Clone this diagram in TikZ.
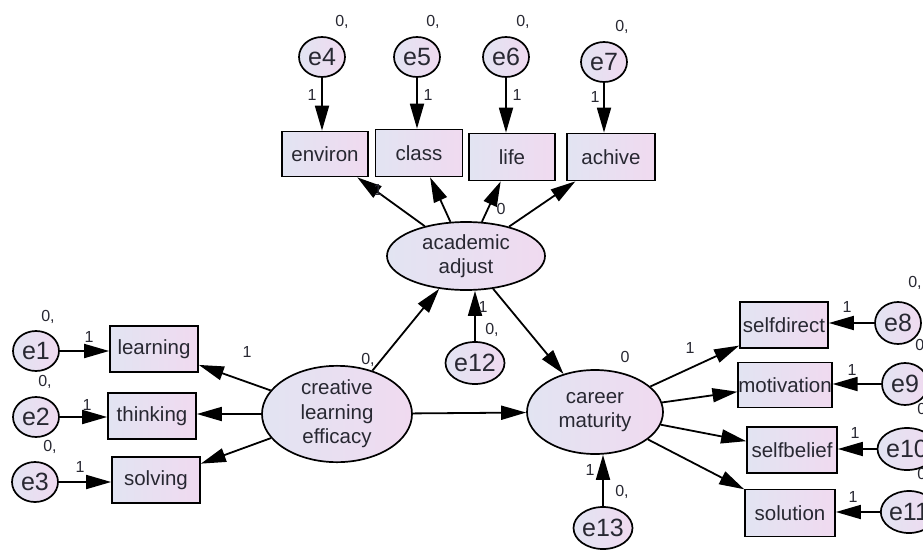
\documentclass[tikz,border=0pt]{standalone}
\usepackage{fontspec}
\setmainfont{Liberation Sans}
\usetikzlibrary{arrows.meta,shapes.geometric}
\definecolor{fillL}{RGB}{226,228,242}
\definecolor{fillR}{RGB}{240,218,240}
\definecolor{txt}{RGB}{40,40,50}
\tikzset{
  base/.style={draw=black, line width=1.7pt, left color=fillL, right color=fillR, text=txt, inner sep=0pt, align=center},
  obs/.style={base, rectangle, minimum width=88pt, minimum height=46pt, font=\fontsize{20.5}{24}\selectfont},
  lat/.style={base, ellipse, font=\fontsize{20.5}{24.5}\selectfont},
  err/.style={base, ellipse, minimum width=46pt, minimum height=40pt, font=\fontsize{25}{28}\selectfont},
  arr/.style={line width=1.8pt, -{Triangle[length=25pt,width=14pt]}},
  lbl/.style={text=txt, inner sep=0pt, font=\fontsize{16}{18}\selectfont}
}
\begin{document}
\begin{tikzpicture}[x=1pt,y=-1pt]
\useasboundingbox (0,0) rectangle (923,551);
\clip (0,0) rectangle (923,551);
\fill[white] (0,0) rectangle (923,551);
% top error terms
\node[err] (e4) at (322,57) {e4};
\node[err] (e5) at (417,57) {e5};
\node[err] (e6) at (506,57) {e6};
\node[err] (e7) at (604,62) {e7};
% top indicators
\node[obs, minimum width=86pt, minimum height=45pt] (environ) at (325,154) {environ};
\node[obs, minimum width=87pt, minimum height=47pt] (class) at (419,153) {class};
\node[obs, minimum width=86pt, minimum height=47pt] (life) at (512,157) {life};
\node[obs, minimum width=88pt, minimum height=47pt] (achive) at (611,157) {achive};
% latent
\node[lat, minimum width=158pt, minimum height=68pt] (aa) at (466,256) {academic\\adjust};
\node[lat, minimum width=136pt, minimum height=84pt] (cm) at (595,412) {career\\maturity};
\node[lat, minimum width=150pt, minimum height=86pt] (cle) at (337,414) {creative\\learning\\efficacy};
\node[err, minimum width=48pt, minimum height=42pt] (e12) at (475,363) {e12};
\node[err, minimum width=48pt, minimum height=42pt] (e13) at (603,528) {e13};
% left indicators
\node[obs] (learning) at (154,349) {learning};
\node[obs] (thinking) at (152,416) {thinking};
\node[obs] (solving) at (156,480) {solving};
\node[err] (e1) at (36,351) {e1};
\node[err] (e2) at (36,417) {e2};
\node[err] (e3) at (35,482) {e3};
% right indicators
\node[obs] (selfdirect) at (784,325) {selfdirect};
\node[obs, minimum width=90pt, minimum height=45pt] (motivation) at (785,385) {motivation};
\node[obs, minimum width=90pt] (selfbelief) at (792,450) {selfbelief};
\node[obs, minimum width=90pt, minimum height=47pt] (solution) at (790,513) {solution};
\node[err, minimum height=42pt] (e8) at (898,323) {e8};
\node[err, minimum height=42pt] (e9) at (905,384) {e9};
\node[err, minimum height=42pt] (e10) at (907,449) {e10};
\node[err, minimum height=42pt] (e11) at (909,512) {e11};
% arrows: errors to top indicators
\draw[arr] (e4.south) -- (e4.south |- environ.north);
\draw[arr] (e5.south) -- (e5.south |- class.north);
\draw[arr] (e6.south) -- (e6.south |- life.north);
\draw[arr] (e7.south) -- (e7.south |- achive.north);
% academic to indicators
\draw[arr] (aa) -- (environ);
\draw[arr] (aa) -- (class);
\draw[arr] (aa) -- (life);
\draw[arr] (aa) -- (achive);
% structural
\draw[arr] (cle) -- (aa);
\draw[arr] (cle) -- (cm);
\draw[arr] (aa) -- (cm);
\draw[arr] (e12.north) -- (e12.north |- aa.south);
\draw[arr] (e13.north) -- (e13.north |- cm.south);
% creative to indicators
\draw[arr] (cle) -- (learning);
\draw[arr] (cle.west) -- (thinking.east |- cle.west);
\draw[arr] (cle) -- (solving);
\draw[arr] (e1.east) -- (learning.west |- e1.east);
\draw[arr] (e2.east) -- (thinking.west |- e2.east);
\draw[arr] (e3.east) -- (solving.west |- e3.east);
% career to indicators
\draw[arr] (cm) -- (selfdirect);
\draw[arr] (cm) -- (motivation);
\draw[arr] (cm) -- (selfbelief);
\draw[arr] (cm) -- (solution);
\draw[arr] (e8.west) -- (selfdirect.east |- e8.west);
\draw[arr] (e9.west) -- (motivation.east |- e9.west);
\draw[arr] (e10.west) -- (selfbelief.east |- e10.west);
\draw[arr] (e11.west) -- (solution.east |- e11.west);
% labels
\node[lbl] (l1) at (342,22) {0,};
\node[lbl] (l2) at (433,22) {0,};
\node[lbl] (l3) at (523,22) {0,};
\node[lbl] (l4) at (622,27) {0,};
\node[lbl] (l5) at (312,95) {1};
\node[lbl] (l6) at (428,95) {1};
\node[lbl] (l7) at (517,95) {1};
\node[lbl] (l8) at (595,97) {1};
\node[lbl] (l9) at (378,190) {1};
\node[lbl] (l10) at (501,209) {0};
\node[lbl] (l11) at (368,360) {0,};
\node[lbl] (l12) at (483,307) {1};
\node[lbl] (l13) at (492,330) {0,};
\node[lbl] (l14) at (625,357) {0};
\node[lbl] (l15) at (590,470) {1};
\node[lbl] (l16) at (622,492) {0,};
\node[lbl] (l17) at (247,352) {1};
\node[lbl] (l18) at (48,317) {0,};
\node[lbl] (l19) at (45,382) {0,};
\node[lbl] (l20) at (50,447) {0,};
\node[lbl] (l21) at (89,337) {1};
\node[lbl] (l22) at (87,405) {1};
\node[lbl] (l23) at (80,467) {1};
\node[lbl] (l24) at (690,348) {1};
\node[lbl] (l25) at (847,307) {1};
\node[lbl] (l26) at (852,370) {1};
\node[lbl] (l27) at (855,433) {1};
\node[lbl] (l28) at (853,497) {1};
\node[lbl] (l29) at (915,283) {0,};
\node[lbl] (l30) at (922,346) {0,};
\node[lbl] (l31) at (924,410) {0,};
\node[lbl] (l32) at (924,475) {0,};
\end{tikzpicture}
\end{document}
